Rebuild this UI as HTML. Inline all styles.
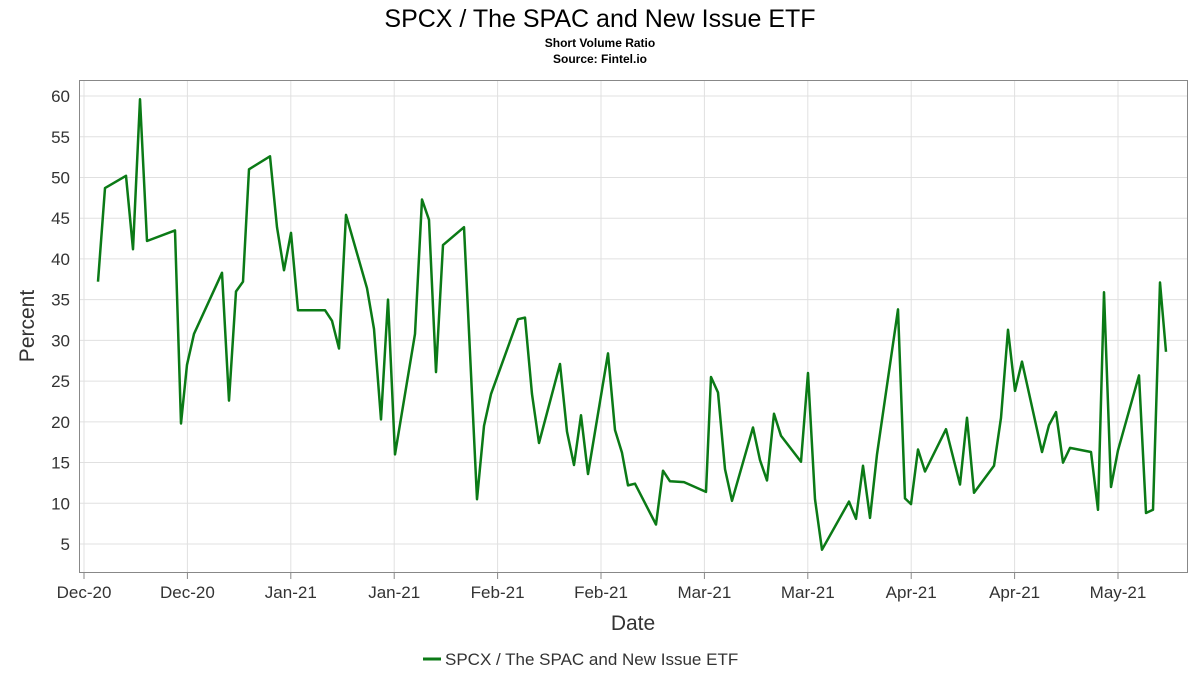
<!DOCTYPE html>
<html><head><meta charset="utf-8"><style>body{margin:0;background:#fff}svg{display:block;font-family:"Liberation Sans",sans-serif}</style></head><body>
<svg id="s" width="1200" height="675" viewBox="0 0 1200 675">
<text x="600" y="27" text-anchor="middle" font-size="25" fill="#000">SPCX / The SPAC and New Issue ETF</text>
<text x="600" y="47" text-anchor="middle" font-size="12" font-weight="bold">Short Volume Ratio</text>
<text x="600" y="63" text-anchor="middle" font-size="12" font-weight="bold">Source: Fintel.io</text>
<g id="grid" stroke="#e0e0e0" stroke-width="1"></g>
<rect x="79.5" y="80.5" width="1108" height="492" fill="none" stroke="#888"/>
<g id="lab" font-size="17" fill="#333"></g>
<text x="633" y="630" text-anchor="middle" font-size="21" fill="#333">Date</text>
<text x="34" y="326" text-anchor="middle" font-size="21" fill="#333" transform="rotate(-90 34 326)">Percent</text>
<polyline id="pl" fill="none" stroke="#0b7a16" stroke-width="2.5" stroke-linejoin="round"/>
<line x1="423" y1="659" x2="441" y2="659" stroke="#0b7a16" stroke-width="3"/>
<text x="445" y="665" font-size="17" fill="#333">SPCX / The SPAC and New Issue ETF</text>
</svg>
<script>
var Y=v=>544-(v-5)*8.145,g=document.getElementById('grid'),l=document.getElementById('lab'),h='',t='';
for(var v=5;v<=60;v+=5){var y=Y(v);h+=`<line x1="80" x2="1188" y1="${y}" y2="${y}"/>`;t+=`<text x="70" y="${y+6}" text-anchor="end">${v}</text>`;}
var xl=['Dec-20','Dec-20','Jan-21','Jan-21','Feb-21','Feb-21','Mar-21','Mar-21','Apr-21','Apr-21','May-21'];
xl.forEach((s,i)=>{var x=84+i*103.4;h+=`<line y1="80" y2="573" x1="${x}" x2="${x}"/><line y1="573" y2="579" x1="${x}" x2="${x}" stroke="#888"/>`;t+=`<text x="${x}" y="598" text-anchor="middle">${s}</text>`;});
g.innerHTML=h;l.innerHTML=t;
var d=[98,37.2,105,48.7,126,50.2,133,41.2,140,59.6,147,42.2,175,43.5,181,19.8,187,27,194,30.8,222,38.3,229,22.6,236,36,243,37.2,249,51,270,52.6,277,43.9,284,38.6,291,43.2,298,33.7,325,33.7,332,32.4,339,29,346,45.4,367,36.4,374,31.4,381,20.3,388,35,395,16,415,30.8,422,47.3,429,44.8,436,26.1,443,41.7,464,43.9,477,10.5,484,19.5,491,23.4,518,32.6,525,32.8,532,23.4,539,17.4,560,27.1,567,18.8,574,14.7,581,20.8,588,13.6,608,28.4,615,19,622,16.2,628,12.2,635,12.4,656,7.4,663,14,670,12.7,684,12.6,706,11.4,711,25.5,718,23.6,725,14.2,732,10.3,753,19.3,760,15.3,767,12.8,774,21,781,18.3,801,15.1,808,26,815,10.5,822,4.3,849,10.2,856,8.1,863,14.6,870,8.2,877,16,898,33.8,905,10.6,911,9.9,918,16.6,925,13.9,946,19.1,960,12.3,967,20.5,974,11.3,994,14.6,1001,20.5,1008,31.3,1015,23.8,1022,27.4,1042,16.3,1049,19.6,1056,21.2,1063,15,1070,16.8,1091,16.3,1098,9.2,1104,35.9,1111,12,1118,16.5,1139,25.7,1146,8.8,1153,9.2,1160,37.1,1166,28.6],p=[];
for(var i=0;i<d.length;i+=2)p.push(d[i]+','+Y(d[i+1]).toFixed(1));
document.getElementById('pl').setAttribute('points',p.join(' '));
</script>
</body></html>
